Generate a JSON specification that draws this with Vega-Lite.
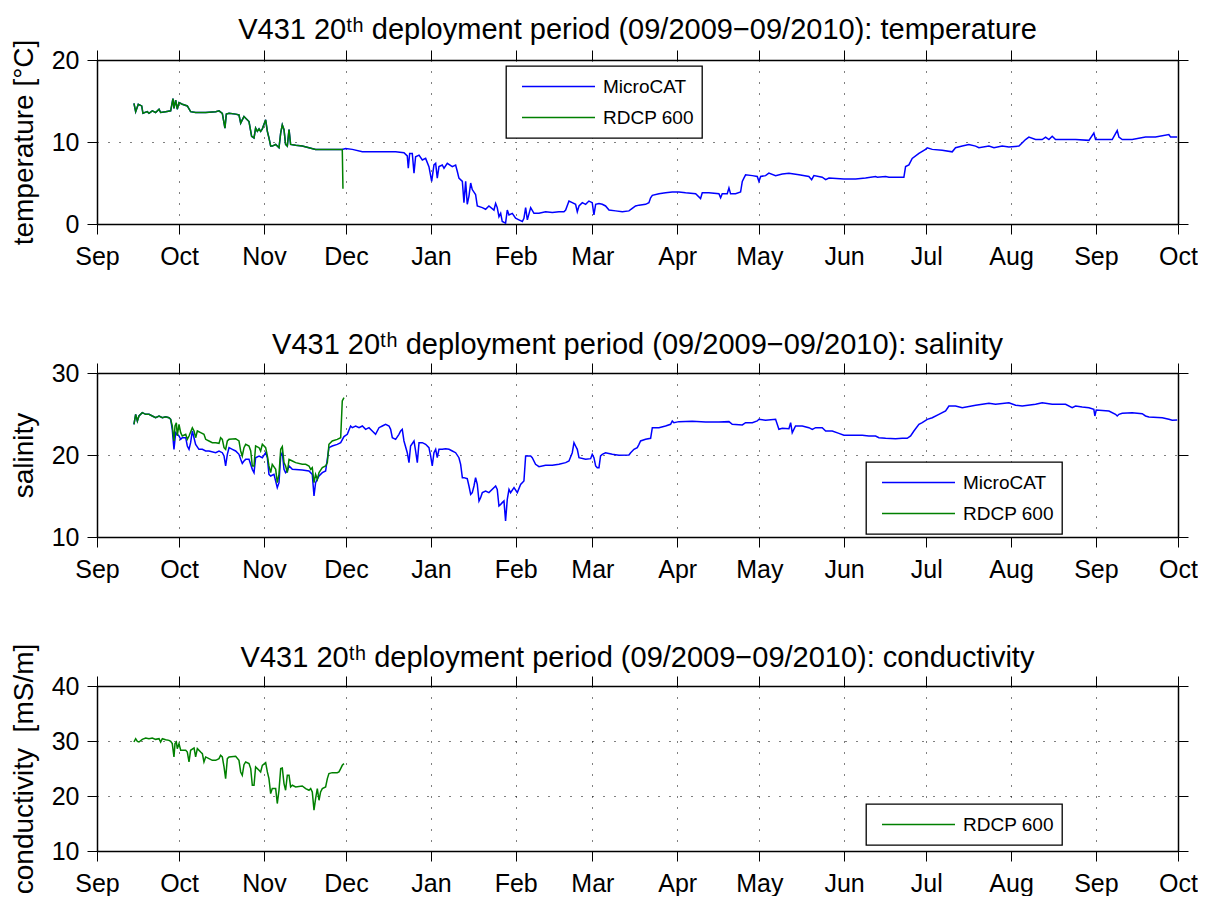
{
"$schema": "https://vega.github.io/schema/vega-lite/v6.json",
"background": "white",
"padding": {"left": 10, "top": 16, "right": 0, "bottom": 0},
"bounds": "flush",
"spacing": 149,
"resolve": {"scale": {"color": "independent"}, "legend": {"color": "independent"}},
"config": {
 "font": "Liberation Sans",
 "view": {"stroke": null},
 "axis": {"labelFont": "Liberation Sans", "labelFontSize": 25, "labelColor": "black", "tickColor": "black", "tickSize": 10, "tickWidth": 1, "domainColor": "black", "domainWidth": 1.5, "titleFont": "Liberation Sans", "titleFontSize": 28, "titleFontWeight": "normal", "titleColor": "black", "gridColor": "black", "gridDash": [1, 10], "gridWidth": 1, "gridOpacity": 1, "labelFlush": false, "labelOverlap": false, "labelBound": false},
 "axisX": {"labelPadding": 10},
 "axisY": {"labelPadding": 8, "titlePadding": 13},
 "title": {"font": "Liberation Sans, DejaVu Sans", "fontSize": 29, "fontWeight": "normal", "color": "black", "offset": -5, "anchor": "middle"},
 "legend": {"orient": "none", "title": null, "strokeColor": "black", "fillColor": "white", "padding": 8, "symbolType": "stroke", "symbolSize": 5329, "symbolStrokeWidth": 1.4, "symbolOffset": 7, "labelOffset": 7, "labelFont": "Liberation Sans", "labelFontSize": 19, "labelColor": "black", "clipHeight": 25, "rowPadding": 6, "strokeWidth": 1.3},
 "line": {"strokeWidth": 1.5}
},
"datasets": {
 "temp": [
  {"t":"2009-09-14T12:00","v":14.7,"s":"MicroCAT"},{"t":"2009-09-15T03:00","v":13.7,"s":"MicroCAT"},{"t":"2009-09-16T02:00","v":14.6,"s":"MicroCAT"},{"t":"2009-09-17T08:00","v":14.4,"s":"MicroCAT"},{"t":"2009-09-17T19:00","v":13.5,"s":"MicroCAT"},{"t":"2009-09-19T09:00","v":13.7,"s":"MicroCAT"},{"t":"2009-09-20T00:00","v":13.5,"s":"MicroCAT"},{"t":"2009-09-21T05:00","v":13.8,"s":"MicroCAT"},{"t":"2009-09-22T10:00","v":13.6,"s":"MicroCAT"},{"t":"2009-09-23T16:00","v":14.0,"s":"MicroCAT"},{"t":"2009-09-24T06:00","v":13.6,"s":"MicroCAT"},{"t":"2009-09-26T02:00","v":13.7,"s":"MicroCAT"},{"t":"2009-09-27T22:00","v":13.8,"s":"MicroCAT"},{"t":"2009-09-28T18:00","v":15.3,"s":"MicroCAT"},{"t":"2009-09-29T03:00","v":14.1,"s":"MicroCAT"},{"t":"2009-09-29T18:00","v":15.1,"s":"MicroCAT"},{"t":"2009-09-30T08:00","v":14.0,"s":"MicroCAT"},{"t":"2009-09-30T23:00","v":14.8,"s":"MicroCAT"},{"t":"2009-10-02T04:00","v":14.6,"s":"MicroCAT"},{"t":"2009-10-04T00:00","v":14.4,"s":"MicroCAT"},{"t":"2009-10-05T05:00","v":13.7,"s":"MicroCAT"},{"t":"2009-10-07T01:00","v":13.6,"s":"MicroCAT"},{"t":"2009-10-10T17:00","v":13.6,"s":"MicroCAT"},{"t":"2009-10-14T09:00","v":13.7,"s":"MicroCAT"},{"t":"2009-10-15T14:00","v":13.8,"s":"MicroCAT"},{"t":"2009-10-16T19:00","v":13.5,"s":"MicroCAT"},{"t":"2009-10-17T18:00","v":11.7,"s":"MicroCAT"},{"t":"2009-10-18T06:00","v":13.4,"s":"MicroCAT"},{"t":"2009-10-19T06:00","v":13.5,"s":"MicroCAT"},{"t":"2009-10-21T16:00","v":13.4,"s":"MicroCAT"},{"t":"2009-10-22T21:00","v":13.3,"s":"MicroCAT"},{"t":"2009-10-23T12:00","v":12.3,"s":"MicroCAT"},{"t":"2009-10-24T02:00","v":12.7,"s":"MicroCAT"},{"t":"2009-10-24T17:00","v":13.1,"s":"MicroCAT"},{"t":"2009-10-25T08:00","v":12.9,"s":"MicroCAT"},{"t":"2009-10-26T13:00","v":12.5,"s":"MicroCAT"},{"t":"2009-10-27T12:00","v":10.7,"s":"MicroCAT"},{"t":"2009-10-28T09:00","v":10.5,"s":"MicroCAT"},{"t":"2009-10-28T23:00","v":11.7,"s":"MicroCAT"},{"t":"2009-10-29T14:00","v":11.3,"s":"MicroCAT"},{"t":"2009-10-30T05:00","v":11.6,"s":"MicroCAT"},{"t":"2009-10-30T19:00","v":11.3,"s":"MicroCAT"},{"t":"2009-10-31T10:00","v":11.6,"s":"MicroCAT"},{"t":"2009-11-01T15:00","v":12.7,"s":"MicroCAT"},{"t":"2009-11-02T06:00","v":11.3,"s":"MicroCAT"},{"t":"2009-11-02T20:00","v":10.5,"s":"MicroCAT"},{"t":"2009-11-03T11:00","v":9.5,"s":"MicroCAT"},{"t":"2009-11-04T01:00","v":9.5,"s":"MicroCAT"},{"t":"2009-11-05T07:00","v":9.7,"s":"MicroCAT"},{"t":"2009-11-06T12:00","v":9.3,"s":"MicroCAT"},{"t":"2009-11-07T03:00","v":11.1,"s":"MicroCAT"},{"t":"2009-11-07T17:00","v":12.1,"s":"MicroCAT"},{"t":"2009-11-08T08:00","v":11.5,"s":"MicroCAT"},{"t":"2009-11-08T22:00","v":9.7,"s":"MicroCAT"},{"t":"2009-11-09T13:00","v":9.5,"s":"MicroCAT"},{"t":"2009-11-10T04:00","v":11.5,"s":"MicroCAT"},{"t":"2009-11-10T18:00","v":9.7,"s":"MicroCAT"},{"t":"2009-11-12T14:00","v":9.6,"s":"MicroCAT"},{"t":"2009-11-15T00:00","v":9.5,"s":"MicroCAT"},{"t":"2009-11-17T11:00","v":9.3,"s":"MicroCAT"},{"t":"2009-11-19T21:00","v":9.1,"s":"MicroCAT"},{"t":"2009-11-22T08:00","v":9.1,"s":"MicroCAT"},{"t":"2009-11-25T23:00","v":9.1,"s":"MicroCAT"},{"t":"2009-11-29T15:00","v":9.1,"s":"MicroCAT"},
  {"t":"2009-11-30T20:00","v":9.2,"s":"MicroCAT"},{"t":"2009-12-03T07:00","v":9.1,"s":"MicroCAT"},{"t":"2009-12-06T23:00","v":8.8,"s":"MicroCAT"},{"t":"2009-12-10T14:00","v":8.8,"s":"MicroCAT"},{"t":"2009-12-14T06:00","v":8.8,"s":"MicroCAT"},{"t":"2009-12-19T03:00","v":8.8,"s":"MicroCAT"},{"t":"2009-12-22T04:00","v":8.7,"s":"MicroCAT"},{"t":"2009-12-23T09:00","v":8.3,"s":"MicroCAT"},{"t":"2009-12-23T18:00","v":6.8,"s":"MicroCAT"},{"t":"2009-12-24T06:00","v":8.6,"s":"MicroCAT"},{"t":"2009-12-25T05:00","v":8.6,"s":"MicroCAT"},{"t":"2009-12-25T20:00","v":6.2,"s":"MicroCAT"},{"t":"2009-12-26T10:00","v":8.2,"s":"MicroCAT"},{"t":"2009-12-27T16:00","v":8.4,"s":"MicroCAT"},{"t":"2009-12-28T21:00","v":7.8,"s":"MicroCAT"},{"t":"2009-12-30T02:00","v":8.0,"s":"MicroCAT"},{"t":"2009-12-31T07:00","v":7.0,"s":"MicroCAT"},{"t":"2010-01-01T07:00","v":5.2,"s":"MicroCAT"},{"t":"2010-01-02T03:00","v":7.2,"s":"MicroCAT"},{"t":"2010-01-02T18:00","v":7.4,"s":"MicroCAT"},{"t":"2010-01-03T08:00","v":5.6,"s":"MicroCAT"},{"t":"2010-01-03T23:00","v":7.0,"s":"MicroCAT"},{"t":"2010-01-05T04:00","v":7.2,"s":"MicroCAT"},{"t":"2010-01-05T19:00","v":6.8,"s":"MicroCAT"},{"t":"2010-01-07T00:00","v":7.4,"s":"MicroCAT"},{"t":"2010-01-08T20:00","v":7.0,"s":"MicroCAT"},{"t":"2010-01-10T01:00","v":7.2,"s":"MicroCAT"},{"t":"2010-01-10T16:00","v":6.4,"s":"MicroCAT"},{"t":"2010-01-11T06:00","v":5.6,"s":"MicroCAT"},{"t":"2010-01-12T12:00","v":5.2,"s":"MicroCAT"},{"t":"2010-01-13T02:00","v":2.6,"s":"MicroCAT"},{"t":"2010-01-13T17:00","v":5.2,"s":"MicroCAT"},{"t":"2010-01-14T07:00","v":2.4,"s":"MicroCAT"},{"t":"2010-01-14T22:00","v":3.4,"s":"MicroCAT"},{"t":"2010-01-15T13:00","v":5.0,"s":"MicroCAT"},{"t":"2010-01-16T03:00","v":4.2,"s":"MicroCAT"},{"t":"2010-01-17T08:00","v":3.6,"s":"MicroCAT"},{"t":"2010-01-17T23:00","v":2.2,"s":"MicroCAT"},{"t":"2010-01-19T19:00","v":2.0,"s":"MicroCAT"},{"t":"2010-01-21T00:00","v":1.8,"s":"MicroCAT"},{"t":"2010-01-22T05:00","v":2.2,"s":"MicroCAT"},{"t":"2010-01-24T01:00","v":1.7,"s":"MicroCAT"},{"t":"2010-01-24T16:00","v":2.5,"s":"MicroCAT"},{"t":"2010-01-25T06:00","v":2.0,"s":"MicroCAT"},{"t":"2010-01-25T21:00","v":0.9,"s":"MicroCAT"},{"t":"2010-01-26T12:00","v":1.3,"s":"MicroCAT"},{"t":"2010-01-27T02:00","v":0.3,"s":"MicroCAT"},{"t":"2010-01-28T07:00","v":0.1,"s":"MicroCAT"},{"t":"2010-01-28T22:00","v":1.7,"s":"MicroCAT"},{"t":"2010-01-29T13:00","v":1.1,"s":"MicroCAT"},{"t":"2010-01-30T18:00","v":1.3,"s":"MicroCAT"},{"t":"2010-01-31T23:00","v":0.7,"s":"MicroCAT"},{"t":"2010-02-02T04:00","v":0.5,"s":"MicroCAT"},{"t":"2010-02-03T10:00","v":0.3,"s":"MicroCAT"},{"t":"2010-02-04T00:00","v":0.7,"s":"MicroCAT"},{"t":"2010-02-04T15:00","v":2.0,"s":"MicroCAT"},{"t":"2010-02-05T06:00","v":0.5,"s":"MicroCAT"},{"t":"2010-02-06T11:00","v":2.0,"s":"MicroCAT"},{"t":"2010-02-07T16:00","v":1.3,"s":"MicroCAT"},{"t":"2010-02-09T12:00","v":1.3,"s":"MicroCAT"},{"t":"2010-02-11T22:00","v":1.5,"s":"MicroCAT"},{"t":"2010-02-14T09:00","v":1.4,"s":"MicroCAT"},{"t":"2010-02-16T19:00","v":1.5,"s":"MicroCAT"},{"t":"2010-02-18T15:00","v":1.5,"s":"MicroCAT"},{"t":"2010-02-19T06:00","v":1.7,"s":"MicroCAT"},{"t":"2010-02-20T11:00","v":2.8,"s":"MicroCAT"},{"t":"2010-02-21T16:00","v":2.6,"s":"MicroCAT"},{"t":"2010-02-22T21:00","v":2.4,"s":"MicroCAT"},{"t":"2010-02-23T12:00","v":1.5,"s":"MicroCAT"},{"t":"2010-02-24T03:00","v":2.2,"s":"MicroCAT"},{"t":"2010-02-25T08:00","v":2.6,"s":"MicroCAT"},{"t":"2010-02-26T13:00","v":2.4,"s":"MicroCAT"},{"t":"2010-02-27T18:00","v":2.8,"s":"MicroCAT"},{"t":"2010-02-28T23:00","v":2.6,"s":"MicroCAT"},{"t":"2010-03-01T14:00","v":1.1,"s":"MicroCAT"},{"t":"2010-03-02T05:00","v":2.4,"s":"MicroCAT"},{"t":"2010-03-03T10:00","v":2.5,"s":"MicroCAT"},{"t":"2010-03-04T15:00","v":2.4,"s":"MicroCAT"},{"t":"2010-03-05T20:00","v":2.2,"s":"MicroCAT"},{"t":"2010-03-07T02:00","v":1.7,"s":"MicroCAT"},{"t":"2010-03-09T12:00","v":1.6,"s":"MicroCAT"},{"t":"2010-03-11T23:00","v":1.5,"s":"MicroCAT"},{"t":"2010-03-14T09:00","v":1.6,"s":"MicroCAT"},{"t":"2010-03-15T14:00","v":1.9,"s":"MicroCAT"},{"t":"2010-03-16T19:00","v":2.2,"s":"MicroCAT"},{"t":"2010-03-18T01:00","v":2.3,"s":"MicroCAT"},{"t":"2010-03-20T11:00","v":2.4,"s":"MicroCAT"},{"t":"2010-03-21T16:00","v":2.6,"s":"MicroCAT"},{"t":"2010-03-22T07:00","v":3.2,"s":"MicroCAT"},{"t":"2010-03-22T22:00","v":3.5,"s":"MicroCAT"},{"t":"2010-03-25T08:00","v":3.7,"s":"MicroCAT"},{"t":"2010-03-27T18:00","v":3.8,"s":"MicroCAT"},{"t":"2010-03-30T05:00","v":3.9,"s":"MicroCAT"},{"t":"2010-04-01T15:00","v":3.9,"s":"MicroCAT"},{"t":"2010-04-04T02:00","v":3.8,"s":"MicroCAT"},{"t":"2010-04-07T18:00","v":3.7,"s":"MicroCAT"},{"t":"2010-04-09T13:00","v":3.1,"s":"MicroCAT"},{"t":"2010-04-10T04:00","v":3.8,"s":"MicroCAT"},{"t":"2010-04-12T14:00","v":3.8,"s":"MicroCAT"},{"t":"2010-04-16T06:00","v":3.7,"s":"MicroCAT"},{"t":"2010-04-16T21:00","v":3.2,"s":"MicroCAT"},{"t":"2010-04-17T11:00","v":3.7,"s":"MicroCAT"},{"t":"2010-04-19T07:00","v":3.7,"s":"MicroCAT"},{"t":"2010-04-19T22:00","v":4.4,"s":"MicroCAT"},{"t":"2010-04-20T12:00","v":3.7,"s":"MicroCAT"},{"t":"2010-04-22T08:00","v":3.7,"s":"MicroCAT"},{"t":"2010-04-24T04:00","v":3.9,"s":"MicroCAT"},{"t":"2010-04-24T19:00","v":5.2,"s":"MicroCAT"},{"t":"2010-04-25T09:00","v":5.6,"s":"MicroCAT"},{"t":"2010-04-26T00:00","v":6.0,"s":"MicroCAT"},{"t":"2010-04-28T11:00","v":5.9,"s":"MicroCAT"},{"t":"2010-04-30T06:00","v":5.8,"s":"MicroCAT"},{"t":"2010-04-30T21:00","v":5.2,"s":"MicroCAT"},{"t":"2010-05-01T12:00","v":5.8,"s":"MicroCAT"},{"t":"2010-05-03T07:00","v":5.9,"s":"MicroCAT"},{"t":"2010-05-04T12:00","v":6.2,"s":"MicroCAT"},{"t":"2010-05-06T23:00","v":5.9,"s":"MicroCAT"},{"t":"2010-05-09T10:00","v":6.1,"s":"MicroCAT"},{"t":"2010-05-11T20:00","v":6.2,"s":"MicroCAT"},{"t":"2010-05-15T12:00","v":6.0,"s":"MicroCAT"},{"t":"2010-05-19T03:00","v":5.8,"s":"MicroCAT"},{"t":"2010-05-20T03:00","v":5.4,"s":"MicroCAT"},{"t":"2010-05-20T23:00","v":5.9,"s":"MicroCAT"},{"t":"2010-05-24T00:00","v":5.7,"s":"MicroCAT"},{"t":"2010-05-25T06:00","v":5.4,"s":"MicroCAT"},{"t":"2010-05-26T11:00","v":5.6,"s":"MicroCAT"},{"t":"2010-05-31T22:00","v":5.5,"s":"MicroCAT"},{"t":"2010-06-05T05:00","v":5.5,"s":"MicroCAT"},{"t":"2010-06-08T20:00","v":5.6,"s":"MicroCAT"},{"t":"2010-06-12T12:00","v":5.8,"s":"MicroCAT"},{"t":"2010-06-13T02:00","v":5.7,"s":"MicroCAT"},{"t":"2010-06-16T04:00","v":5.8,"s":"MicroCAT"},{"t":"2010-06-17T09:00","v":5.7,"s":"MicroCAT"},{"t":"2010-06-22T20:00","v":5.7,"s":"MicroCAT"},{"t":"2010-06-23T11:00","v":7.0,"s":"MicroCAT"},{"t":"2010-06-24T16:00","v":7.2,"s":"MicroCAT"},{"t":"2010-06-25T21:00","v":8.0,"s":"MicroCAT"},{"t":"2010-06-28T08:00","v":8.6,"s":"MicroCAT"},{"t":"2010-06-30T18:00","v":9.1,"s":"MicroCAT"},{"t":"2010-07-01T09:00","v":9.3,"s":"MicroCAT"},{"t":"2010-07-03T05:00","v":9.1,"s":"MicroCAT"},{"t":"2010-07-06T20:00","v":9.0,"s":"MicroCAT"},{"t":"2010-07-10T12:00","v":8.8,"s":"MicroCAT"},{"t":"2010-07-11T17:00","v":9.3,"s":"MicroCAT"},{"t":"2010-07-14T04:00","v":9.5,"s":"MicroCAT"},{"t":"2010-07-16T14:00","v":9.7,"s":"MicroCAT"},{"t":"2010-07-19T01:00","v":9.5,"s":"MicroCAT"},{"t":"2010-07-20T06:00","v":9.3,"s":"MicroCAT"},{"t":"2010-07-23T22:00","v":9.5,"s":"MicroCAT"},{"t":"2010-07-25T18:00","v":9.3,"s":"MicroCAT"},{"t":"2010-07-28T18:00","v":9.5,"s":"MicroCAT"},{"t":"2010-07-31T05:00","v":9.4,"s":"MicroCAT"},{"t":"2010-08-03T21:00","v":9.5,"s":"MicroCAT"},{"t":"2010-08-04T11:00","v":9.7,"s":"MicroCAT"},{"t":"2010-08-06T07:00","v":10.3,"s":"MicroCAT"},{"t":"2010-08-07T12:00","v":10.6,"s":"MicroCAT"},{"t":"2010-08-09T23:00","v":10.3,"s":"MicroCAT"},{"t":"2010-08-12T09:00","v":10.3,"s":"MicroCAT"},{"t":"2010-08-13T15:00","v":10.6,"s":"MicroCAT"},{"t":"2010-08-14T20:00","v":10.3,"s":"MicroCAT"},{"t":"2010-08-16T01:00","v":10.7,"s":"MicroCAT"},{"t":"2010-08-17T06:00","v":10.3,"s":"MicroCAT"},{"t":"2010-08-20T22:00","v":10.3,"s":"MicroCAT"},{"t":"2010-08-24T14:00","v":10.3,"s":"MicroCAT"},{"t":"2010-08-29T11:00","v":10.2,"s":"MicroCAT"},{"t":"2010-08-31T06:00","v":11.1,"s":"MicroCAT"},{"t":"2010-08-31T21:00","v":10.3,"s":"MicroCAT"},{"t":"2010-09-06T23:00","v":10.3,"s":"MicroCAT"},{"t":"2010-09-08T19:00","v":11.4,"s":"MicroCAT"},{"t":"2010-09-09T10:00","v":10.6,"s":"MicroCAT"},{"t":"2010-09-10T15:00","v":10.3,"s":"MicroCAT"},{"t":"2010-09-14T06:00","v":10.3,"s":"MicroCAT"},{"t":"2010-09-19T03:00","v":10.6,"s":"MicroCAT"},{"t":"2010-09-22T19:00","v":10.6,"s":"MicroCAT"},{"t":"2010-09-27T16:00","v":10.9,"s":"MicroCAT"},{"t":"2010-09-28T07:00","v":10.6,"s":"MicroCAT"},{"t":"2010-09-30T17:00","v":10.6,"s":"MicroCAT"},
  {"t":"2009-09-14T12:00","v":14.7,"s":"RDCP 600"},{"t":"2009-09-15T03:00","v":13.7,"s":"RDCP 600"},{"t":"2009-09-16T02:00","v":14.6,"s":"RDCP 600"},{"t":"2009-09-17T08:00","v":14.4,"s":"RDCP 600"},{"t":"2009-09-17T19:00","v":13.5,"s":"RDCP 600"},{"t":"2009-09-19T09:00","v":13.7,"s":"RDCP 600"},{"t":"2009-09-20T00:00","v":13.5,"s":"RDCP 600"},{"t":"2009-09-21T05:00","v":13.8,"s":"RDCP 600"},{"t":"2009-09-22T10:00","v":13.6,"s":"RDCP 600"},{"t":"2009-09-23T16:00","v":14.0,"s":"RDCP 600"},{"t":"2009-09-24T06:00","v":13.6,"s":"RDCP 600"},{"t":"2009-09-26T02:00","v":13.7,"s":"RDCP 600"},{"t":"2009-09-27T22:00","v":13.8,"s":"RDCP 600"},{"t":"2009-09-28T18:00","v":15.3,"s":"RDCP 600"},{"t":"2009-09-29T03:00","v":14.1,"s":"RDCP 600"},{"t":"2009-09-29T18:00","v":15.1,"s":"RDCP 600"},{"t":"2009-09-30T08:00","v":14.0,"s":"RDCP 600"},{"t":"2009-09-30T23:00","v":14.8,"s":"RDCP 600"},{"t":"2009-10-02T04:00","v":14.6,"s":"RDCP 600"},{"t":"2009-10-04T00:00","v":14.4,"s":"RDCP 600"},{"t":"2009-10-05T05:00","v":13.7,"s":"RDCP 600"},{"t":"2009-10-07T01:00","v":13.6,"s":"RDCP 600"},{"t":"2009-10-10T17:00","v":13.6,"s":"RDCP 600"},{"t":"2009-10-14T09:00","v":13.7,"s":"RDCP 600"},{"t":"2009-10-15T14:00","v":13.8,"s":"RDCP 600"},{"t":"2009-10-16T19:00","v":13.5,"s":"RDCP 600"},{"t":"2009-10-17T18:00","v":11.7,"s":"RDCP 600"},{"t":"2009-10-18T06:00","v":13.4,"s":"RDCP 600"},{"t":"2009-10-19T06:00","v":13.5,"s":"RDCP 600"},{"t":"2009-10-21T16:00","v":13.4,"s":"RDCP 600"},{"t":"2009-10-22T21:00","v":13.3,"s":"RDCP 600"},{"t":"2009-10-23T12:00","v":12.3,"s":"RDCP 600"},{"t":"2009-10-24T02:00","v":12.7,"s":"RDCP 600"},{"t":"2009-10-24T17:00","v":13.1,"s":"RDCP 600"},{"t":"2009-10-25T08:00","v":12.9,"s":"RDCP 600"},{"t":"2009-10-26T13:00","v":12.5,"s":"RDCP 600"},{"t":"2009-10-27T12:00","v":10.7,"s":"RDCP 600"},{"t":"2009-10-28T09:00","v":10.5,"s":"RDCP 600"},{"t":"2009-10-28T23:00","v":11.7,"s":"RDCP 600"},{"t":"2009-10-29T14:00","v":11.3,"s":"RDCP 600"},{"t":"2009-10-30T05:00","v":11.6,"s":"RDCP 600"},{"t":"2009-10-30T19:00","v":11.3,"s":"RDCP 600"},{"t":"2009-10-31T10:00","v":11.6,"s":"RDCP 600"},{"t":"2009-11-01T15:00","v":12.7,"s":"RDCP 600"},{"t":"2009-11-02T06:00","v":11.3,"s":"RDCP 600"},{"t":"2009-11-02T20:00","v":10.5,"s":"RDCP 600"},{"t":"2009-11-03T11:00","v":9.5,"s":"RDCP 600"},{"t":"2009-11-04T01:00","v":9.5,"s":"RDCP 600"},{"t":"2009-11-05T07:00","v":9.7,"s":"RDCP 600"},{"t":"2009-11-06T12:00","v":9.3,"s":"RDCP 600"},{"t":"2009-11-07T03:00","v":11.1,"s":"RDCP 600"},{"t":"2009-11-07T17:00","v":12.1,"s":"RDCP 600"},{"t":"2009-11-08T08:00","v":11.5,"s":"RDCP 600"},{"t":"2009-11-08T22:00","v":9.7,"s":"RDCP 600"},{"t":"2009-11-09T13:00","v":9.5,"s":"RDCP 600"},{"t":"2009-11-10T04:00","v":11.5,"s":"RDCP 600"},{"t":"2009-11-10T18:00","v":9.7,"s":"RDCP 600"},{"t":"2009-11-12T14:00","v":9.6,"s":"RDCP 600"},{"t":"2009-11-15T00:00","v":9.5,"s":"RDCP 600"},{"t":"2009-11-17T11:00","v":9.3,"s":"RDCP 600"},{"t":"2009-11-19T21:00","v":9.1,"s":"RDCP 600"},{"t":"2009-11-22T08:00","v":9.1,"s":"RDCP 600"},{"t":"2009-11-25T23:00","v":9.1,"s":"RDCP 600"},{"t":"2009-11-29T15:00","v":9.1,"s":"RDCP 600"},{"t":"2009-11-29T21:00","v":4.3,"s":"RDCP 600"}
 ],
 "sal": [
  {"t":"2009-09-14T12:00","v":23.74,"s":"MicroCAT"},{"t":"2009-09-15T03:00","v":24.96,"s":"MicroCAT"},{"t":"2009-09-15T18:00","v":24.15,"s":"MicroCAT"},{"t":"2009-09-16T08:00","v":24.76,"s":"MicroCAT"},{"t":"2009-09-17T13:00","v":25.16,"s":"MicroCAT"},{"t":"2009-09-18T19:00","v":24.96,"s":"MicroCAT"},{"t":"2009-09-20T00:00","v":24.96,"s":"MicroCAT"},{"t":"2009-09-21T05:00","v":24.76,"s":"MicroCAT"},{"t":"2009-09-22T10:00","v":24.55,"s":"MicroCAT"},{"t":"2009-09-23T16:00","v":24.76,"s":"MicroCAT"},{"t":"2009-09-24T21:00","v":24.55,"s":"MicroCAT"},{"t":"2009-09-26T02:00","v":24.67,"s":"MicroCAT"},{"t":"2009-09-27T07:00","v":24.55,"s":"MicroCAT"},{"t":"2009-09-27T22:00","v":24.35,"s":"MicroCAT"},
  {"t":"2009-09-28T12:00","v":23.13,"s":"MicroCAT"},{"t":"2009-09-29T03:00","v":20.69,"s":"MicroCAT"},{"t":"2009-09-29T18:00","v":22.72,"s":"MicroCAT"},{"t":"2009-09-30T23:00","v":22.32,"s":"MicroCAT"},{"t":"2009-10-01T14:00","v":21.91,"s":"MicroCAT"},{"t":"2009-10-02T04:00","v":22.11,"s":"MicroCAT"},{"t":"2009-10-03T10:00","v":22.11,"s":"MicroCAT"},{"t":"2009-10-04T00:00","v":21.1,"s":"MicroCAT"},{"t":"2009-10-04T15:00","v":20.69,"s":"MicroCAT"},{"t":"2009-10-05T05:00","v":21.5,"s":"MicroCAT"},{"t":"2009-10-05T20:00","v":22.93,"s":"MicroCAT"},{"t":"2009-10-07T01:00","v":21.3,"s":"MicroCAT"},{"t":"2009-10-08T06:00","v":20.69,"s":"MicroCAT"},{"t":"2009-10-09T12:00","v":20.69,"s":"MicroCAT"},{"t":"2009-10-10T17:00","v":20.49,"s":"MicroCAT"},{"t":"2009-10-11T22:00","v":20.49,"s":"MicroCAT"},{"t":"2009-10-14T09:00","v":20.28,"s":"MicroCAT"},{"t":"2009-10-15T14:00","v":20.49,"s":"MicroCAT"},{"t":"2009-10-16T19:00","v":20.28,"s":"MicroCAT"},{"t":"2009-10-17T10:00","v":19.88,"s":"MicroCAT"},{"t":"2009-10-18T00:00","v":18.66,"s":"MicroCAT"},{"t":"2009-10-18T15:00","v":20.08,"s":"MicroCAT"},{"t":"2009-10-19T06:00","v":20.89,"s":"MicroCAT"},{"t":"2009-10-20T11:00","v":20.69,"s":"MicroCAT"},{"t":"2009-10-21T16:00","v":20.49,"s":"MicroCAT"},{"t":"2009-10-22T21:00","v":20.08,"s":"MicroCAT"},{"t":"2009-10-23T12:00","v":19.47,"s":"MicroCAT"},{"t":"2009-10-24T02:00","v":18.98,"s":"MicroCAT"},{"t":"2009-10-24T17:00","v":19.27,"s":"MicroCAT"},{"t":"2009-10-25T08:00","v":19.47,"s":"MicroCAT"},{"t":"2009-10-26T13:00","v":19.47,"s":"MicroCAT"},{"t":"2009-10-27T18:00","v":18.25,"s":"MicroCAT"},{"t":"2009-10-28T09:00","v":17.85,"s":"MicroCAT"},{"t":"2009-10-28T23:00","v":19.67,"s":"MicroCAT"},{"t":"2009-10-30T05:00","v":19.88,"s":"MicroCAT"},{"t":"2009-10-31T10:00","v":19.67,"s":"MicroCAT"},{"t":"2009-11-01T15:00","v":20.28,"s":"MicroCAT"},{"t":"2009-11-02T06:00","v":19.67,"s":"MicroCAT"},{"t":"2009-11-02T20:00","v":17.64,"s":"MicroCAT"},{"t":"2009-11-03T11:00","v":17.44,"s":"MicroCAT"},{"t":"2009-11-04T16:00","v":17.64,"s":"MicroCAT"},{"t":"2009-11-05T21:00","v":16.02,"s":"MicroCAT"},{"t":"2009-11-06T12:00","v":16.63,"s":"MicroCAT"},{"t":"2009-11-07T03:00","v":19.88,"s":"MicroCAT"},{"t":"2009-11-07T17:00","v":20.28,"s":"MicroCAT"},{"t":"2009-11-08T08:00","v":18.25,"s":"MicroCAT"},{"t":"2009-11-08T22:00","v":17.85,"s":"MicroCAT"},{"t":"2009-11-09T13:00","v":18.05,"s":"MicroCAT"},{"t":"2009-11-10T04:00","v":18.66,"s":"MicroCAT"},{"t":"2009-11-11T09:00","v":18.25,"s":"MicroCAT"},{"t":"2009-11-15T00:00","v":18.17,"s":"MicroCAT"},{"t":"2009-11-17T11:00","v":18.05,"s":"MicroCAT"},{"t":"2009-11-18T16:00","v":17.64,"s":"MicroCAT"},{"t":"2009-11-19T07:00","v":15.0,"s":"MicroCAT"},{"t":"2009-11-19T21:00","v":16.63,"s":"MicroCAT"},{"t":"2009-11-21T03:00","v":17.44,"s":"MicroCAT"},{"t":"2009-11-22T08:00","v":17.85,"s":"MicroCAT"},{"t":"2009-11-23T13:00","v":18.05,"s":"MicroCAT"},{"t":"2009-11-24T18:00","v":20.89,"s":"MicroCAT"},{"t":"2009-11-25T23:00","v":21.1,"s":"MicroCAT"},{"t":"2009-11-27T19:00","v":21.3,"s":"MicroCAT"},{"t":"2009-11-29T01:00","v":21.5,"s":"MicroCAT"},{"t":"2009-11-30T06:00","v":22.24,"s":"MicroCAT"},{"t":"2009-12-01T11:00","v":22.52,"s":"MicroCAT"},{"t":"2009-12-02T16:00","v":23.54,"s":"MicroCAT"},{"t":"2009-12-03T07:00","v":23.33,"s":"MicroCAT"},{"t":"2009-12-04T12:00","v":23.54,"s":"MicroCAT"},{"t":"2009-12-05T18:00","v":23.33,"s":"MicroCAT"},{"t":"2009-12-06T23:00","v":23.54,"s":"MicroCAT"},{"t":"2009-12-08T04:00","v":23.13,"s":"MicroCAT"},{"t":"2009-12-09T09:00","v":23.33,"s":"MicroCAT"},{"t":"2009-12-10T14:00","v":22.93,"s":"MicroCAT"},{"t":"2009-12-11T19:00","v":22.52,"s":"MicroCAT"},{"t":"2009-12-13T01:00","v":23.33,"s":"MicroCAT"},{"t":"2009-12-14T06:00","v":23.54,"s":"MicroCAT"},{"t":"2009-12-15T11:00","v":23.74,"s":"MicroCAT"},{"t":"2009-12-16T17:00","v":23.54,"s":"MicroCAT"},{"t":"2009-12-17T07:00","v":23.13,"s":"MicroCAT"},{"t":"2009-12-17T22:00","v":22.11,"s":"MicroCAT"},{"t":"2009-12-19T03:00","v":21.91,"s":"MicroCAT"},{"t":"2009-12-20T08:00","v":22.52,"s":"MicroCAT"},{"t":"2009-12-20T23:00","v":22.93,"s":"MicroCAT"},{"t":"2009-12-21T13:00","v":23.13,"s":"MicroCAT"},{"t":"2009-12-22T04:00","v":21.71,"s":"MicroCAT"},{"t":"2009-12-23T09:00","v":20.28,"s":"MicroCAT"},{"t":"2009-12-24T00:00","v":19.07,"s":"MicroCAT"},{"t":"2009-12-24T14:00","v":21.1,"s":"MicroCAT"},{"t":"2009-12-25T20:00","v":21.71,"s":"MicroCAT"},{"t":"2009-12-26T10:00","v":20.49,"s":"MicroCAT"},{"t":"2009-12-27T01:00","v":19.07,"s":"MicroCAT"},{"t":"2009-12-27T16:00","v":21.5,"s":"MicroCAT"},{"t":"2009-12-28T21:00","v":21.5,"s":"MicroCAT"},{"t":"2009-12-30T02:00","v":21.3,"s":"MicroCAT"},{"t":"2009-12-31T07:00","v":20.89,"s":"MicroCAT"},{"t":"2009-12-31T22:00","v":19.88,"s":"MicroCAT"},{"t":"2010-01-01T12:00","v":18.66,"s":"MicroCAT"},{"t":"2010-01-02T03:00","v":20.28,"s":"MicroCAT"},{"t":"2010-01-02T18:00","v":20.69,"s":"MicroCAT"},{"t":"2010-01-03T08:00","v":19.67,"s":"MicroCAT"},{"t":"2010-01-03T23:00","v":20.69,"s":"MicroCAT"},{"t":"2010-01-05T04:00","v":20.69,"s":"MicroCAT"},{"t":"2010-01-06T09:00","v":20.77,"s":"MicroCAT"},{"t":"2010-01-07T15:00","v":20.69,"s":"MicroCAT"},{"t":"2010-01-08T20:00","v":20.49,"s":"MicroCAT"},{"t":"2010-01-10T01:00","v":20.28,"s":"MicroCAT"},{"t":"2010-01-11T06:00","v":19.67,"s":"MicroCAT"},{"t":"2010-01-11T21:00","v":18.86,"s":"MicroCAT"},{"t":"2010-01-12T12:00","v":17.24,"s":"MicroCAT"},{"t":"2010-01-13T02:00","v":17.24,"s":"MicroCAT"},{"t":"2010-01-14T07:00","v":17.11,"s":"MicroCAT"},{"t":"2010-01-14T22:00","v":16.22,"s":"MicroCAT"},{"t":"2010-01-15T13:00","v":15.2,"s":"MicroCAT"},{"t":"2010-01-16T03:00","v":15.41,"s":"MicroCAT"},{"t":"2010-01-16T18:00","v":16.22,"s":"MicroCAT"},{"t":"2010-01-17T08:00","v":17.24,"s":"MicroCAT"},{"t":"2010-01-17T23:00","v":16.42,"s":"MicroCAT"},{"t":"2010-01-18T14:00","v":14.39,"s":"MicroCAT"},{"t":"2010-01-19T04:00","v":14.8,"s":"MicroCAT"},{"t":"2010-01-19T19:00","v":15.41,"s":"MicroCAT"},{"t":"2010-01-21T00:00","v":15.61,"s":"MicroCAT"},{"t":"2010-01-22T05:00","v":15.41,"s":"MicroCAT"},{"t":"2010-01-24T16:00","v":16.22,"s":"MicroCAT"},{"t":"2010-01-25T06:00","v":15.81,"s":"MicroCAT"},{"t":"2010-01-25T21:00","v":13.78,"s":"MicroCAT"},{"t":"2010-01-26T12:00","v":13.98,"s":"MicroCAT"},{"t":"2010-01-27T02:00","v":14.19,"s":"MicroCAT"},{"t":"2010-01-27T17:00","v":14.39,"s":"MicroCAT"},{"t":"2010-01-28T07:00","v":11.95,"s":"MicroCAT"},{"t":"2010-01-28T22:00","v":14.59,"s":"MicroCAT"},{"t":"2010-01-29T13:00","v":15.81,"s":"MicroCAT"},{"t":"2010-01-30T03:00","v":15.41,"s":"MicroCAT"},{"t":"2010-01-31T09:00","v":16.02,"s":"MicroCAT"},{"t":"2010-02-01T14:00","v":15.41,"s":"MicroCAT"},{"t":"2010-02-02T19:00","v":16.42,"s":"MicroCAT"},{"t":"2010-02-04T00:00","v":16.83,"s":"MicroCAT"},{"t":"2010-02-04T15:00","v":19.88,"s":"MicroCAT"},{"t":"2010-02-05T06:00","v":19.88,"s":"MicroCAT"},{"t":"2010-02-06T11:00","v":19.88,"s":"MicroCAT"},{"t":"2010-02-07T01:00","v":19.67,"s":"MicroCAT"},{"t":"2010-02-08T06:00","v":18.86,"s":"MicroCAT"},{"t":"2010-02-09T12:00","v":18.58,"s":"MicroCAT"},{"t":"2010-02-11T22:00","v":18.74,"s":"MicroCAT"},{"t":"2010-02-14T09:00","v":18.74,"s":"MicroCAT"},{"t":"2010-02-16T19:00","v":18.86,"s":"MicroCAT"},{"t":"2010-02-19T06:00","v":19.07,"s":"MicroCAT"},{"t":"2010-02-20T11:00","v":19.27,"s":"MicroCAT"},{"t":"2010-02-21T16:00","v":20.28,"s":"MicroCAT"},{"t":"2010-02-22T07:00","v":21.5,"s":"MicroCAT"},{"t":"2010-02-22T21:00","v":21.1,"s":"MicroCAT"},{"t":"2010-02-23T12:00","v":20.69,"s":"MicroCAT"},{"t":"2010-02-24T03:00","v":19.67,"s":"MicroCAT"},{"t":"2010-02-26T13:00","v":19.47,"s":"MicroCAT"},{"t":"2010-02-28T09:00","v":19.55,"s":"MicroCAT"},{"t":"2010-02-28T23:00","v":20.08,"s":"MicroCAT"},{"t":"2010-03-01T14:00","v":19.67,"s":"MicroCAT"},{"t":"2010-03-02T05:00","v":18.66,"s":"MicroCAT"},{"t":"2010-03-02T19:00","v":18.46,"s":"MicroCAT"},{"t":"2010-03-03T10:00","v":18.46,"s":"MicroCAT"},{"t":"2010-03-04T00:00","v":19.88,"s":"MicroCAT"},{"t":"2010-03-04T15:00","v":20.08,"s":"MicroCAT"},{"t":"2010-03-05T20:00","v":20.28,"s":"MicroCAT"},{"t":"2010-03-08T07:00","v":20.08,"s":"MicroCAT"},{"t":"2010-03-10T17:00","v":19.96,"s":"MicroCAT"},{"t":"2010-03-14T09:00","v":20.0,"s":"MicroCAT"},{"t":"2010-03-15T00:00","v":20.28,"s":"MicroCAT"},{"t":"2010-03-16T05:00","v":20.69,"s":"MicroCAT"},{"t":"2010-03-17T10:00","v":20.89,"s":"MicroCAT"},{"t":"2010-03-18T01:00","v":21.3,"s":"MicroCAT"},{"t":"2010-03-18T15:00","v":21.71,"s":"MicroCAT"},{"t":"2010-03-20T11:00","v":21.91,"s":"MicroCAT"},{"t":"2010-03-22T07:00","v":22.03,"s":"MicroCAT"},{"t":"2010-03-22T22:00","v":23.33,"s":"MicroCAT"},{"t":"2010-03-25T08:00","v":23.33,"s":"MicroCAT"},{"t":"2010-03-27T18:00","v":23.54,"s":"MicroCAT"},{"t":"2010-03-29T14:00","v":23.74,"s":"MicroCAT"},{"t":"2010-03-30T05:00","v":24.15,"s":"MicroCAT"},{"t":"2010-03-30T19:00","v":23.94,"s":"MicroCAT"},{"t":"2010-04-01T15:00","v":24.07,"s":"MicroCAT"},{"t":"2010-04-06T12:00","v":24.11,"s":"MicroCAT"},{"t":"2010-04-11T09:00","v":24.02,"s":"MicroCAT"},{"t":"2010-04-16T06:00","v":24.02,"s":"MicroCAT"},{"t":"2010-04-19T22:00","v":24.07,"s":"MicroCAT"},{"t":"2010-04-21T03:00","v":23.74,"s":"MicroCAT"},{"t":"2010-04-24T19:00","v":23.66,"s":"MicroCAT"},{"t":"2010-04-26T00:00","v":23.94,"s":"MicroCAT"},{"t":"2010-04-28T11:00","v":23.94,"s":"MicroCAT"},{"t":"2010-04-30T06:00","v":24.15,"s":"MicroCAT"},{"t":"2010-04-30T21:00","v":24.35,"s":"MicroCAT"},{"t":"2010-05-03T07:00","v":24.23,"s":"MicroCAT"},{"t":"2010-05-06T23:00","v":24.35,"s":"MicroCAT"},{"t":"2010-05-08T04:00","v":23.13,"s":"MicroCAT"},{"t":"2010-05-09T10:00","v":23.25,"s":"MicroCAT"},{"t":"2010-05-11T20:00","v":23.21,"s":"MicroCAT"},{"t":"2010-05-12T11:00","v":23.94,"s":"MicroCAT"},{"t":"2010-05-13T01:00","v":22.72,"s":"MicroCAT"},{"t":"2010-05-14T06:00","v":23.54,"s":"MicroCAT"},{"t":"2010-05-16T17:00","v":23.54,"s":"MicroCAT"},{"t":"2010-05-19T03:00","v":23.33,"s":"MicroCAT"},{"t":"2010-05-20T09:00","v":23.13,"s":"MicroCAT"},{"t":"2010-05-21T14:00","v":23.33,"s":"MicroCAT"},{"t":"2010-05-24T00:00","v":23.33,"s":"MicroCAT"},{"t":"2010-05-25T06:00","v":22.93,"s":"MicroCAT"},{"t":"2010-05-27T16:00","v":22.93,"s":"MicroCAT"},{"t":"2010-05-30T02:00","v":22.64,"s":"MicroCAT"},{"t":"2010-05-31T22:00","v":22.4,"s":"MicroCAT"},{"t":"2010-06-02T18:00","v":22.4,"s":"MicroCAT"},{"t":"2010-06-07T15:00","v":22.4,"s":"MicroCAT"},{"t":"2010-06-10T01:00","v":22.32,"s":"MicroCAT"},{"t":"2010-06-12T12:00","v":22.32,"s":"MicroCAT"},{"t":"2010-06-13T17:00","v":22.11,"s":"MicroCAT"},{"t":"2010-06-16T04:00","v":22.03,"s":"MicroCAT"},{"t":"2010-06-19T19:00","v":21.99,"s":"MicroCAT"},{"t":"2010-06-22T06:00","v":22.03,"s":"MicroCAT"},{"t":"2010-06-24T01:00","v":22.03,"s":"MicroCAT"},{"t":"2010-06-25T07:00","v":22.32,"s":"MicroCAT"},{"t":"2010-06-26T12:00","v":22.93,"s":"MicroCAT"},{"t":"2010-06-28T08:00","v":23.74,"s":"MicroCAT"},{"t":"2010-06-29T13:00","v":23.94,"s":"MicroCAT"},{"t":"2010-07-01T09:00","v":24.35,"s":"MicroCAT"},{"t":"2010-07-03T05:00","v":24.55,"s":"MicroCAT"},{"t":"2010-07-05T15:00","v":24.96,"s":"MicroCAT"},{"t":"2010-07-08T02:00","v":25.37,"s":"MicroCAT"},{"t":"2010-07-09T07:00","v":25.98,"s":"MicroCAT"},{"t":"2010-07-11T17:00","v":25.98,"s":"MicroCAT"},{"t":"2010-07-14T04:00","v":25.77,"s":"MicroCAT"},{"t":"2010-07-19T01:00","v":26.06,"s":"MicroCAT"},{"t":"2010-07-23T22:00","v":26.3,"s":"MicroCAT"},{"t":"2010-07-26T08:00","v":26.18,"s":"MicroCAT"},{"t":"2010-07-31T05:00","v":26.38,"s":"MicroCAT"},{"t":"2010-08-02T16:00","v":26.06,"s":"MicroCAT"},{"t":"2010-08-05T02:00","v":25.98,"s":"MicroCAT"},{"t":"2010-08-09T23:00","v":26.18,"s":"MicroCAT"},{"t":"2010-08-12T09:00","v":26.38,"s":"MicroCAT"},{"t":"2010-08-16T01:00","v":26.18,"s":"MicroCAT"},{"t":"2010-08-20T22:00","v":26.18,"s":"MicroCAT"},{"t":"2010-08-23T08:00","v":25.77,"s":"MicroCAT"},{"t":"2010-08-24T14:00","v":25.98,"s":"MicroCAT"},{"t":"2010-08-27T00:00","v":25.85,"s":"MicroCAT"},{"t":"2010-08-29T11:00","v":25.77,"s":"MicroCAT"},{"t":"2010-08-31T06:00","v":25.57,"s":"MicroCAT"},{"t":"2010-08-31T15:00","v":24.76,"s":"MicroCAT"},{"t":"2010-09-01T03:00","v":25.49,"s":"MicroCAT"},{"t":"2010-09-05T18:00","v":25.37,"s":"MicroCAT"},{"t":"2010-09-08T04:00","v":24.96,"s":"MicroCAT"},{"t":"2010-09-08T19:00","v":24.76,"s":"MicroCAT"},{"t":"2010-09-09T10:00","v":24.96,"s":"MicroCAT"},{"t":"2010-09-10T15:00","v":25.08,"s":"MicroCAT"},{"t":"2010-09-14T06:00","v":25.16,"s":"MicroCAT"},{"t":"2010-09-17T22:00","v":25.04,"s":"MicroCAT"},{"t":"2010-09-19T03:00","v":24.76,"s":"MicroCAT"},{"t":"2010-09-20T09:00","v":24.63,"s":"MicroCAT"},{"t":"2010-09-25T06:00","v":24.55,"s":"MicroCAT"},{"t":"2010-09-27T16:00","v":24.35,"s":"MicroCAT"},{"t":"2010-09-28T21:00","v":24.23,"s":"MicroCAT"},{"t":"2010-09-30T17:00","v":24.27,"s":"MicroCAT"},
  {"t":"2009-09-14T12:00","v":23.74,"s":"RDCP 600"},{"t":"2009-09-15T03:00","v":24.96,"s":"RDCP 600"},{"t":"2009-09-15T18:00","v":24.15,"s":"RDCP 600"},{"t":"2009-09-16T08:00","v":24.76,"s":"RDCP 600"},{"t":"2009-09-17T13:00","v":25.16,"s":"RDCP 600"},{"t":"2009-09-18T19:00","v":24.96,"s":"RDCP 600"},{"t":"2009-09-20T00:00","v":24.96,"s":"RDCP 600"},{"t":"2009-09-21T05:00","v":24.76,"s":"RDCP 600"},{"t":"2009-09-22T10:00","v":24.55,"s":"RDCP 600"},{"t":"2009-09-23T16:00","v":24.76,"s":"RDCP 600"},{"t":"2009-09-24T21:00","v":24.55,"s":"RDCP 600"},{"t":"2009-09-26T02:00","v":24.67,"s":"RDCP 600"},{"t":"2009-09-27T07:00","v":24.55,"s":"RDCP 600"},{"t":"2009-09-27T22:00","v":24.35,"s":"RDCP 600"},
  {"t":"2009-09-28T12:00","v":23.54,"s":"RDCP 600"},{"t":"2009-09-29T03:00","v":21.71,"s":"RDCP 600"},{"t":"2009-09-29T12:00","v":23.54,"s":"RDCP 600"},{"t":"2009-09-30T00:00","v":23.94,"s":"RDCP 600"},{"t":"2009-09-30T08:00","v":22.32,"s":"RDCP 600"},{"t":"2009-09-30T23:00","v":23.74,"s":"RDCP 600"},{"t":"2009-10-01T14:00","v":22.72,"s":"RDCP 600"},{"t":"2009-10-02T04:00","v":22.32,"s":"RDCP 600"},{"t":"2009-10-03T10:00","v":22.52,"s":"RDCP 600"},{"t":"2009-10-04T00:00","v":21.91,"s":"RDCP 600"},{"t":"2009-10-04T15:00","v":22.32,"s":"RDCP 600"},{"t":"2009-10-05T20:00","v":23.33,"s":"RDCP 600"},{"t":"2009-10-06T11:00","v":22.93,"s":"RDCP 600"},{"t":"2009-10-07T01:00","v":22.11,"s":"RDCP 600"},{"t":"2009-10-07T16:00","v":22.93,"s":"RDCP 600"},{"t":"2009-10-08T21:00","v":22.72,"s":"RDCP 600"},{"t":"2009-10-10T02:00","v":22.52,"s":"RDCP 600"},{"t":"2009-10-10T17:00","v":21.91,"s":"RDCP 600"},{"t":"2009-10-11T22:00","v":21.71,"s":"RDCP 600"},{"t":"2009-10-13T03:00","v":21.5,"s":"RDCP 600"},{"t":"2009-10-14T09:00","v":21.5,"s":"RDCP 600"},{"t":"2009-10-15T14:00","v":21.42,"s":"RDCP 600"},{"t":"2009-10-16T04:00","v":22.11,"s":"RDCP 600"},{"t":"2009-10-16T19:00","v":21.91,"s":"RDCP 600"},{"t":"2009-10-17T10:00","v":20.89,"s":"RDCP 600"},{"t":"2009-10-18T00:00","v":20.69,"s":"RDCP 600"},{"t":"2009-10-18T15:00","v":21.71,"s":"RDCP 600"},{"t":"2009-10-19T06:00","v":21.91,"s":"RDCP 600"},{"t":"2009-10-21T16:00","v":21.99,"s":"RDCP 600"},{"t":"2009-10-22T21:00","v":21.71,"s":"RDCP 600"},{"t":"2009-10-23T12:00","v":20.49,"s":"RDCP 600"},{"t":"2009-10-24T02:00","v":19.88,"s":"RDCP 600"},{"t":"2009-10-24T17:00","v":20.89,"s":"RDCP 600"},{"t":"2009-10-25T08:00","v":21.3,"s":"RDCP 600"},{"t":"2009-10-26T13:00","v":21.1,"s":"RDCP 600"},{"t":"2009-10-27T04:00","v":20.49,"s":"RDCP 600"},{"t":"2009-10-27T18:00","v":18.66,"s":"RDCP 600"},{"t":"2009-10-28T09:00","v":18.66,"s":"RDCP 600"},{"t":"2009-10-28T23:00","v":21.1,"s":"RDCP 600"},{"t":"2009-10-30T05:00","v":20.89,"s":"RDCP 600"},{"t":"2009-10-30T19:00","v":20.49,"s":"RDCP 600"},{"t":"2009-10-31T10:00","v":21.3,"s":"RDCP 600"},{"t":"2009-11-01T15:00","v":20.89,"s":"RDCP 600"},{"t":"2009-11-02T06:00","v":19.88,"s":"RDCP 600"},{"t":"2009-11-02T20:00","v":18.66,"s":"RDCP 600"},{"t":"2009-11-03T11:00","v":17.85,"s":"RDCP 600"},{"t":"2009-11-04T01:00","v":18.86,"s":"RDCP 600"},{"t":"2009-11-05T07:00","v":18.25,"s":"RDCP 600"},{"t":"2009-11-05T21:00","v":16.63,"s":"RDCP 600"},{"t":"2009-11-06T12:00","v":17.64,"s":"RDCP 600"},{"t":"2009-11-07T03:00","v":20.69,"s":"RDCP 600"},{"t":"2009-11-07T17:00","v":21.02,"s":"RDCP 600"},{"t":"2009-11-08T08:00","v":19.07,"s":"RDCP 600"},{"t":"2009-11-08T22:00","v":18.66,"s":"RDCP 600"},{"t":"2009-11-09T13:00","v":17.85,"s":"RDCP 600"},{"t":"2009-11-10T04:00","v":19.47,"s":"RDCP 600"},{"t":"2009-11-11T09:00","v":19.27,"s":"RDCP 600"},{"t":"2009-11-12T14:00","v":19.07,"s":"RDCP 600"},{"t":"2009-11-15T00:00","v":18.86,"s":"RDCP 600"},{"t":"2009-11-16T06:00","v":18.86,"s":"RDCP 600"},{"t":"2009-11-17T11:00","v":18.66,"s":"RDCP 600"},{"t":"2009-11-18T02:00","v":18.25,"s":"RDCP 600"},{"t":"2009-11-18T16:00","v":18.46,"s":"RDCP 600"},{"t":"2009-11-19T07:00","v":16.63,"s":"RDCP 600"},{"t":"2009-11-19T21:00","v":17.64,"s":"RDCP 600"},{"t":"2009-11-20T12:00","v":17.03,"s":"RDCP 600"},{"t":"2009-11-21T03:00","v":17.85,"s":"RDCP 600"},{"t":"2009-11-22T08:00","v":18.46,"s":"RDCP 600"},{"t":"2009-11-23T13:00","v":18.66,"s":"RDCP 600"},{"t":"2009-11-24T04:00","v":19.07,"s":"RDCP 600"},{"t":"2009-11-24T18:00","v":21.3,"s":"RDCP 600"},{"t":"2009-11-25T23:00","v":21.71,"s":"RDCP 600"},{"t":"2009-11-27T19:00","v":21.91,"s":"RDCP 600"},{"t":"2009-11-29T01:00","v":22.11,"s":"RDCP 600"},{"t":"2009-11-29T15:00","v":26.59,"s":"RDCP 600"},{"t":"2009-11-30T06:00","v":26.99,"s":"RDCP 600"}
 ],
 "cond": [
  {"t":"2009-09-14T12:00","v":29.82,"s":"RDCP 600"},{"t":"2009-09-15T03:00","v":30.42,"s":"RDCP 600"},{"t":"2009-09-15T18:00","v":29.94,"s":"RDCP 600"},{"t":"2009-09-16T08:00","v":29.82,"s":"RDCP 600"},{"t":"2009-09-17T13:00","v":30.3,"s":"RDCP 600"},{"t":"2009-09-18T19:00","v":30.54,"s":"RDCP 600"},{"t":"2009-09-20T00:00","v":30.42,"s":"RDCP 600"},{"t":"2009-09-21T05:00","v":30.54,"s":"RDCP 600"},{"t":"2009-09-22T10:00","v":30.3,"s":"RDCP 600"},{"t":"2009-09-23T16:00","v":30.42,"s":"RDCP 600"},{"t":"2009-09-24T06:00","v":29.82,"s":"RDCP 600"},{"t":"2009-09-24T21:00","v":30.42,"s":"RDCP 600"},{"t":"2009-09-26T02:00","v":30.24,"s":"RDCP 600"},{"t":"2009-09-27T07:00","v":30.12,"s":"RDCP 600"},{"t":"2009-09-27T22:00","v":29.94,"s":"RDCP 600"},{"t":"2009-09-28T12:00","v":29.52,"s":"RDCP 600"},{"t":"2009-09-29T03:00","v":27.1,"s":"RDCP 600"},{"t":"2009-09-29T12:00","v":29.52,"s":"RDCP 600"},{"t":"2009-09-30T00:00","v":29.82,"s":"RDCP 600"},{"t":"2009-09-30T08:00","v":28.61,"s":"RDCP 600"},{"t":"2009-09-30T23:00","v":29.52,"s":"RDCP 600"},{"t":"2009-10-01T14:00","v":28.31,"s":"RDCP 600"},{"t":"2009-10-02T04:00","v":28.31,"s":"RDCP 600"},{"t":"2009-10-03T10:00","v":28.31,"s":"RDCP 600"},{"t":"2009-10-04T00:00","v":28.0,"s":"RDCP 600"},{"t":"2009-10-04T15:00","v":26.19,"s":"RDCP 600"},{"t":"2009-10-05T05:00","v":28.31,"s":"RDCP 600"},{"t":"2009-10-06T11:00","v":28.73,"s":"RDCP 600"},{"t":"2009-10-07T01:00","v":27.1,"s":"RDCP 600"},{"t":"2009-10-07T16:00","v":28.61,"s":"RDCP 600"},{"t":"2009-10-08T21:00","v":28.0,"s":"RDCP 600"},{"t":"2009-10-09T12:00","v":27.7,"s":"RDCP 600"},{"t":"2009-10-10T02:00","v":26.19,"s":"RDCP 600"},{"t":"2009-10-10T17:00","v":27.1,"s":"RDCP 600"},{"t":"2009-10-11T22:00","v":26.79,"s":"RDCP 600"},{"t":"2009-10-13T03:00","v":26.49,"s":"RDCP 600"},{"t":"2009-10-14T09:00","v":26.49,"s":"RDCP 600"},{"t":"2009-10-15T14:00","v":26.79,"s":"RDCP 600"},{"t":"2009-10-16T04:00","v":27.4,"s":"RDCP 600"},{"t":"2009-10-16T19:00","v":27.1,"s":"RDCP 600"},{"t":"2009-10-17T10:00","v":25.28,"s":"RDCP 600"},{"t":"2009-10-18T00:00","v":23.16,"s":"RDCP 600"},{"t":"2009-10-18T15:00","v":26.79,"s":"RDCP 600"},{"t":"2009-10-19T06:00","v":27.1,"s":"RDCP 600"},{"t":"2009-10-21T16:00","v":27.22,"s":"RDCP 600"},{"t":"2009-10-22T21:00","v":26.49,"s":"RDCP 600"},{"t":"2009-10-23T12:00","v":24.37,"s":"RDCP 600"},{"t":"2009-10-24T02:00","v":23.77,"s":"RDCP 600"},{"t":"2009-10-24T17:00","v":25.7,"s":"RDCP 600"},{"t":"2009-10-25T08:00","v":26.19,"s":"RDCP 600"},{"t":"2009-10-26T13:00","v":25.89,"s":"RDCP 600"},{"t":"2009-10-27T04:00","v":24.98,"s":"RDCP 600"},{"t":"2009-10-27T18:00","v":21.95,"s":"RDCP 600"},{"t":"2009-10-28T09:00","v":21.95,"s":"RDCP 600"},{"t":"2009-10-28T23:00","v":25.28,"s":"RDCP 600"},{"t":"2009-10-30T05:00","v":24.68,"s":"RDCP 600"},{"t":"2009-10-30T19:00","v":24.37,"s":"RDCP 600"},{"t":"2009-10-31T10:00","v":25.58,"s":"RDCP 600"},{"t":"2009-11-01T15:00","v":26.07,"s":"RDCP 600"},{"t":"2009-11-02T06:00","v":24.37,"s":"RDCP 600"},{"t":"2009-11-02T20:00","v":23.16,"s":"RDCP 600"},{"t":"2009-11-03T11:00","v":20.44,"s":"RDCP 600"},{"t":"2009-11-04T01:00","v":21.35,"s":"RDCP 600"},{"t":"2009-11-05T07:00","v":21.35,"s":"RDCP 600"},{"t":"2009-11-05T21:00","v":18.63,"s":"RDCP 600"},{"t":"2009-11-06T12:00","v":21.05,"s":"RDCP 600"},{"t":"2009-11-07T03:00","v":24.98,"s":"RDCP 600"},{"t":"2009-11-07T17:00","v":25.1,"s":"RDCP 600"},{"t":"2009-11-08T08:00","v":22.26,"s":"RDCP 600"},{"t":"2009-11-08T22:00","v":21.05,"s":"RDCP 600"},{"t":"2009-11-09T13:00","v":23.77,"s":"RDCP 600"},{"t":"2009-11-10T04:00","v":23.77,"s":"RDCP 600"},{"t":"2009-11-10T18:00","v":21.65,"s":"RDCP 600"},{"t":"2009-11-11T09:00","v":21.95,"s":"RDCP 600"},{"t":"2009-11-12T14:00","v":21.65,"s":"RDCP 600"},{"t":"2009-11-15T00:00","v":21.83,"s":"RDCP 600"},{"t":"2009-11-16T06:00","v":21.35,"s":"RDCP 600"},{"t":"2009-11-17T11:00","v":21.05,"s":"RDCP 600"},{"t":"2009-11-18T02:00","v":21.35,"s":"RDCP 600"},{"t":"2009-11-18T16:00","v":20.74,"s":"RDCP 600"},{"t":"2009-11-19T07:00","v":17.42,"s":"RDCP 600"},{"t":"2009-11-19T21:00","v":19.53,"s":"RDCP 600"},{"t":"2009-11-20T12:00","v":21.35,"s":"RDCP 600"},{"t":"2009-11-21T03:00","v":19.23,"s":"RDCP 600"},{"t":"2009-11-21T17:00","v":20.74,"s":"RDCP 600"},{"t":"2009-11-22T08:00","v":21.35,"s":"RDCP 600"},{"t":"2009-11-23T13:00","v":21.65,"s":"RDCP 600"},{"t":"2009-11-24T04:00","v":23.16,"s":"RDCP 600"},{"t":"2009-11-24T18:00","v":24.07,"s":"RDCP 600"},{"t":"2009-11-25T23:00","v":24.25,"s":"RDCP 600"},{"t":"2009-11-27T19:00","v":24.25,"s":"RDCP 600"},{"t":"2009-11-28T10:00","v":24.37,"s":"RDCP 600"},{"t":"2009-11-29T01:00","v":24.98,"s":"RDCP 600"},{"t":"2009-11-29T15:00","v":25.58,"s":"RDCP 600"},{"t":"2009-11-30T06:00","v":25.89,"s":"RDCP 600"}
 ]
},
"vconcat": [
 {
  "width": 1081, "height": 164,
  "title": {"text": "V431 20\u1d57\u02b0 deployment period (09/2009\u221209/2010): temperature", "dy": 1},
  "data": {"name": "temp"},
  "layer": [
   {"mark": {"type": "line"},
    "encoding": {
     "x": {"field": "t", "type": "temporal", "scale": {"domain": [{"year": 2009, "month": "sep", "date": 1}, {"year": 2010, "month": "oct", "date": 1}]}, "axis": {"orient": "bottom", "title": null, "format": "%b", "grid": true, "values": [{"year":2009,"month":"sep","date":1},{"year":2009,"month":"oct","date":1},{"year":2009,"month":"nov","date":1},{"year":2009,"month":"dec","date":1},{"year":2010,"month":"jan","date":1},{"year":2010,"month":"feb","date":1},{"year":2010,"month":"mar","date":1},{"year":2010,"month":"apr","date":1},{"year":2010,"month":"may","date":1},{"year":2010,"month":"jun","date":1},{"year":2010,"month":"jul","date":1},{"year":2010,"month":"aug","date":1},{"year":2010,"month":"sep","date":1},{"year":2010,"month":"oct","date":1}]}},
     "y": {"field": "v", "type": "quantitative", "scale": {"domain": [0, 20], "nice": false, "zero": false}, "axis": {"orient": "left", "title": "temperature [\u00b0C]", "values": [0, 10, 20], "grid": true}},
     "color": {"field": "s", "type": "nominal", "scale": {"domain": ["MicroCAT", "RDCP 600"], "range": ["#0000ff", "#008000"]}, "legend": {"legendX": 409, "legendY": 6}}
    }},
   {"mark": {"type": "line", "opacity": 0},
    "encoding": {
     "x": {"field": "t", "type": "temporal", "scale": {"domain": [{"year": 2009, "month": "sep", "date": 1}, {"year": 2010, "month": "oct", "date": 1}]}, "axis": {"orient": "top", "title": null, "labels": false, "grid": false, "values": [{"year":2009,"month":"sep","date":1},{"year":2009,"month":"oct","date":1},{"year":2009,"month":"nov","date":1},{"year":2009,"month":"dec","date":1},{"year":2010,"month":"jan","date":1},{"year":2010,"month":"feb","date":1},{"year":2010,"month":"mar","date":1},{"year":2010,"month":"apr","date":1},{"year":2010,"month":"may","date":1},{"year":2010,"month":"jun","date":1},{"year":2010,"month":"jul","date":1},{"year":2010,"month":"aug","date":1},{"year":2010,"month":"sep","date":1},{"year":2010,"month":"oct","date":1}]}},
     "y": {"field": "v", "type": "quantitative", "scale": {"domain": [0, 20], "nice": false, "zero": false}, "axis": {"orient": "right", "title": null, "labels": false, "values": [0, 10, 20], "grid": false}}
    }}
  ],
  "resolve": {"axis": {"x": "independent", "y": "independent"}}
 },
 {
  "width": 1081, "height": 164,
  "title": {"text": "V431 20\u1d57\u02b0 deployment period (09/2009\u221209/2010): salinity", "dy": -6},
  "data": {"name": "sal"},
  "layer": [
   {"mark": {"type": "line"},
    "encoding": {
     "x": {"field": "t", "type": "temporal", "scale": {"domain": [{"year": 2009, "month": "sep", "date": 1}, {"year": 2010, "month": "oct", "date": 1}]}, "axis": {"orient": "bottom", "title": null, "format": "%b", "grid": true, "values": [{"year":2009,"month":"sep","date":1},{"year":2009,"month":"oct","date":1},{"year":2009,"month":"nov","date":1},{"year":2009,"month":"dec","date":1},{"year":2010,"month":"jan","date":1},{"year":2010,"month":"feb","date":1},{"year":2010,"month":"mar","date":1},{"year":2010,"month":"apr","date":1},{"year":2010,"month":"may","date":1},{"year":2010,"month":"jun","date":1},{"year":2010,"month":"jul","date":1},{"year":2010,"month":"aug","date":1},{"year":2010,"month":"sep","date":1},{"year":2010,"month":"oct","date":1}]}},
     "y": {"field": "v", "type": "quantitative", "scale": {"domain": [10, 30], "nice": false, "zero": false}, "axis": {"orient": "left", "title": "salinity", "values": [10, 20, 30], "grid": true}},
     "color": {"field": "s", "type": "nominal", "scale": {"domain": ["MicroCAT", "RDCP 600"], "range": ["#0000ff", "#008000"]}, "legend": {"legendX": 769, "legendY": 89}}
    }},
   {"mark": {"type": "line", "opacity": 0},
    "encoding": {
     "x": {"field": "t", "type": "temporal", "scale": {"domain": [{"year": 2009, "month": "sep", "date": 1}, {"year": 2010, "month": "oct", "date": 1}]}, "axis": {"orient": "top", "title": null, "labels": false, "grid": false, "values": [{"year":2009,"month":"sep","date":1},{"year":2009,"month":"oct","date":1},{"year":2009,"month":"nov","date":1},{"year":2009,"month":"dec","date":1},{"year":2010,"month":"jan","date":1},{"year":2010,"month":"feb","date":1},{"year":2010,"month":"mar","date":1},{"year":2010,"month":"apr","date":1},{"year":2010,"month":"may","date":1},{"year":2010,"month":"jun","date":1},{"year":2010,"month":"jul","date":1},{"year":2010,"month":"aug","date":1},{"year":2010,"month":"sep","date":1},{"year":2010,"month":"oct","date":1}]}},
     "y": {"field": "v", "type": "quantitative", "scale": {"domain": [10, 30], "nice": false, "zero": false}, "axis": {"orient": "right", "title": null, "labels": false, "values": [10, 20, 30], "grid": false}}
    }}
  ],
  "resolve": {"axis": {"x": "independent", "y": "independent"}}
 },
 {
  "width": 1081, "height": 165,
  "title": {"text": "V431 20\u1d57\u02b0 deployment period (09/2009\u221209/2010): conductivity", "dy": 25},
  "data": {"name": "cond"},
  "layer": [
   {"mark": {"type": "line"},
    "encoding": {
     "x": {"field": "t", "type": "temporal", "scale": {"domain": [{"year": 2009, "month": "sep", "date": 1}, {"year": 2010, "month": "oct", "date": 1}]}, "axis": {"orient": "bottom", "title": null, "format": "%b", "grid": true, "values": [{"year":2009,"month":"sep","date":1},{"year":2009,"month":"oct","date":1},{"year":2009,"month":"nov","date":1},{"year":2009,"month":"dec","date":1},{"year":2010,"month":"jan","date":1},{"year":2010,"month":"feb","date":1},{"year":2010,"month":"mar","date":1},{"year":2010,"month":"apr","date":1},{"year":2010,"month":"may","date":1},{"year":2010,"month":"jun","date":1},{"year":2010,"month":"jul","date":1},{"year":2010,"month":"aug","date":1},{"year":2010,"month":"sep","date":1},{"year":2010,"month":"oct","date":1}]}},
     "y": {"field": "v", "type": "quantitative", "scale": {"domain": [10, 40], "nice": false, "zero": false}, "axis": {"orient": "left", "title": "conductivity\u00a0 [mS/m]", "values": [10, 20, 30, 40], "grid": true}},
     "color": {"field": "s", "type": "nominal", "scale": {"domain": ["RDCP 600"], "range": ["#008000"]}, "legend": {"legendX": 769, "legendY": 118}}
    }},
   {"mark": {"type": "line", "opacity": 0},
    "encoding": {
     "x": {"field": "t", "type": "temporal", "scale": {"domain": [{"year": 2009, "month": "sep", "date": 1}, {"year": 2010, "month": "oct", "date": 1}]}, "axis": {"orient": "top", "title": null, "labels": false, "grid": false, "values": [{"year":2009,"month":"sep","date":1},{"year":2009,"month":"oct","date":1},{"year":2009,"month":"nov","date":1},{"year":2009,"month":"dec","date":1},{"year":2010,"month":"jan","date":1},{"year":2010,"month":"feb","date":1},{"year":2010,"month":"mar","date":1},{"year":2010,"month":"apr","date":1},{"year":2010,"month":"may","date":1},{"year":2010,"month":"jun","date":1},{"year":2010,"month":"jul","date":1},{"year":2010,"month":"aug","date":1},{"year":2010,"month":"sep","date":1},{"year":2010,"month":"oct","date":1}]}},
     "y": {"field": "v", "type": "quantitative", "scale": {"domain": [10, 40], "nice": false, "zero": false}, "axis": {"orient": "right", "title": null, "labels": false, "values": [10, 20, 30, 40], "grid": false}}
    }}
  ],
  "resolve": {"axis": {"x": "independent", "y": "independent"}}
 }
]
}
